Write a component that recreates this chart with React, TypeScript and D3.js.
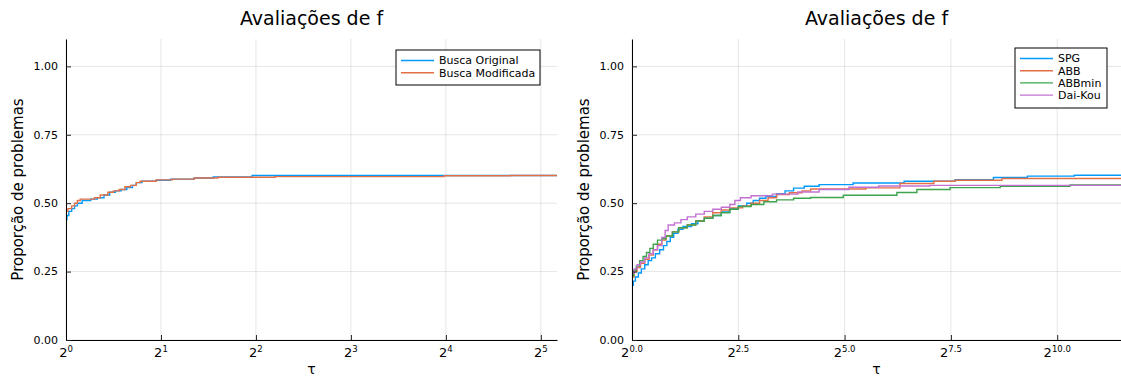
import { axisBottom, axisLeft, curveStepAfter, format, line, scaleLinear, select } from 'd3';
import { useEffect, useRef } from 'react';

// performance profiles: [log2(tau), proportion of problems]
const buscaOriginal = [
  [0, 0.44], [0.01, 0.455], [0.03, 0.47], [0.06, 0.48], [0.09, 0.49], [0.12, 0.5], [0.17, 0.51],
  [0.26, 0.515], [0.33, 0.52], [0.4, 0.53], [0.46, 0.54], [0.52, 0.545], [0.58, 0.55], [0.64, 0.557],
  [0.7, 0.565], [0.74, 0.575], [0.8, 0.58], [0.95, 0.584], [1.1, 0.588], [1.35, 0.592], [1.55, 0.596],
  [1.96, 0.601], [5.17, 0.601],
];
const buscaModificada = [
  [0, 0.47], [0.02, 0.48], [0.06, 0.49], [0.09, 0.5], [0.12, 0.51], [0.15, 0.515], [0.3, 0.52],
  [0.36, 0.53], [0.44, 0.54], [0.5, 0.545], [0.56, 0.55], [0.62, 0.56], [0.68, 0.565], [0.74, 0.575],
  [0.78, 0.58], [0.95, 0.585], [1.12, 0.588], [1.35, 0.592], [1.6, 0.595], [2.2, 0.597], [3.98, 0.6],
  [4.68, 0.601], [5.17, 0.601],
];

const spg = [
  [0, 0.2], [0.03, 0.215], [0.08, 0.23], [0.15, 0.245], [0.22, 0.26], [0.3, 0.275], [0.38, 0.29],
  [0.46, 0.3], [0.55, 0.315], [0.65, 0.33], [0.74, 0.345], [0.82, 0.36], [0.9, 0.375], [0.98, 0.39],
  [1.08, 0.405], [1.2, 0.415], [1.4, 0.425], [1.55, 0.435], [1.7, 0.445], [1.9, 0.455], [2.1, 0.468],
  [2.3, 0.48], [2.5, 0.49], [2.7, 0.5], [2.85, 0.51], [3.0, 0.518], [3.15, 0.525], [3.4, 0.535],
  [3.6, 0.545], [3.8, 0.555], [4.05, 0.562], [4.4, 0.568], [5.2, 0.574], [6.4, 0.58], [7.6, 0.586],
  [8.5, 0.594], [9.3, 0.599], [10.4, 0.602], [11.5, 0.602],
];
const abb = [
  [0, 0.23], [0.05, 0.25], [0.12, 0.265], [0.2, 0.28], [0.3, 0.295], [0.4, 0.31], [0.5, 0.33],
  [0.6, 0.35], [0.7, 0.365], [0.8, 0.38], [0.95, 0.395], [1.1, 0.41], [1.3, 0.42], [1.5, 0.435],
  [1.7, 0.45], [1.9, 0.465], [2.1, 0.475], [2.3, 0.483], [2.6, 0.49], [2.8, 0.5], [3.0, 0.51],
  [3.2, 0.52], [3.4, 0.532], [3.7, 0.538], [4.0, 0.545], [4.2, 0.552], [5.5, 0.556], [6.3, 0.572],
  [7.1, 0.58], [7.6, 0.584], [8.7, 0.59], [11.5, 0.591],
];
const abbMin = [
  [0, 0.235], [0.04, 0.255], [0.1, 0.27], [0.18, 0.29], [0.26, 0.305], [0.34, 0.32], [0.42, 0.335],
  [0.5, 0.35], [0.6, 0.365], [0.7, 0.37], [0.8, 0.38], [0.95, 0.395], [1.1, 0.41], [1.3, 0.42],
  [1.5, 0.435], [1.7, 0.445], [1.9, 0.455], [2.1, 0.465], [2.3, 0.478], [2.5, 0.488], [2.8, 0.495],
  [3.1, 0.505], [3.4, 0.512], [3.8, 0.518], [4.2, 0.521], [4.97, 0.529], [6.23, 0.539], [6.7, 0.55],
  [7.48, 0.557], [8.66, 0.562], [10.3, 0.567], [11.5, 0.567],
];
const daiKou = [
  [0, 0.245], [0.05, 0.26], [0.12, 0.275], [0.2, 0.285], [0.3, 0.3], [0.4, 0.315], [0.5, 0.33],
  [0.6, 0.345], [0.7, 0.375], [0.78, 0.4], [0.85, 0.42], [1.0, 0.428], [1.15, 0.44], [1.3, 0.45],
  [1.5, 0.46], [1.7, 0.47], [1.9, 0.478], [2.1, 0.485], [2.3, 0.495], [2.42, 0.51], [2.55, 0.52],
  [2.8, 0.527], [3.3, 0.533], [3.9, 0.541], [4.4, 0.55], [5.1, 0.558], [5.8, 0.563], [7.0, 0.565],
  [11.5, 0.566],
];

const leftXTicks = [0, 1, 2, 3, 4, 5];
const rightXTicks = [0, 2.5, 5, 7.5, 10];
const yTicks = [0, 0.25, 0.5, 0.75, 1];

const FONT = 'DejaVu Sans, sans-serif';

const panels = [
  {
    x0: 66, x1: 557, xMax: 5.17, xTicks: leftXTicks, fmt: (d) => `${d}`,
    series: [
      { name: 'Busca Original', color: '#009AFA', data: buscaOriginal },
      { name: 'Busca Modificada', color: '#E36F47', data: buscaModificada },
    ],
    legend: { x: 396, y: 50, w: 144, h: 35 },
  },
  {
    x0: 632, x1: 1121, xMax: 11.5, xTicks: rightXTicks, fmt: (d) => d.toFixed(1),
    series: [
      { name: 'SPG', color: '#009AFA', data: spg },
      { name: 'ABB', color: '#E36F47', data: abb },
      { name: 'ABBmin', color: '#3EA44E', data: abbMin },
      { name: 'Dai-Kou', color: '#C271D2', data: daiKou },
    ],
    legend: { x: 1015, y: 48, w: 92, h: 60 },
  },
];

const App = () => {
  const svgRef = useRef(null);

  useEffect(() => {
    const svgEl = select(svgRef.current);
    svgEl.selectAll('*').remove();
    const top = 39;
    const bottom = 340;

    panels.forEach((p) => {
      const xScale = scaleLinear().domain([0, p.xMax]).range([p.x0, p.x1]);
      const yScale = scaleLinear().domain([0, 1.1]).range([bottom, top]);
      const g = svgEl.append('g');

      // grid
      g.selectAll('.vgrid')
        .data(p.xTicks)
        .enter()
        .append('line')
        .attr('x1', (d) => xScale(d))
        .attr('x2', (d) => xScale(d))
        .attr('y1', top)
        .attr('y2', bottom)
        .attr('stroke', '#000')
        .attr('stroke-opacity', 0.1);
      g.selectAll('.hgrid')
        .data(yTicks)
        .enter()
        .append('line')
        .attr('x1', p.x0)
        .attr('x2', p.x1)
        .attr('y1', (d) => yScale(d))
        .attr('y2', (d) => yScale(d))
        .attr('stroke', '#000')
        .attr('stroke-opacity', 0.1);

      const gLine = line()
        .x((d) => xScale(d[0]))
        .y((d) => yScale(d[1]))
        .curve(curveStepAfter);

      g.selectAll('.series')
        .data(p.series)
        .enter()
        .append('path')
        .attr('fill', 'none')
        .attr('stroke', (d) => d.color)
        .attr('stroke-width', 1.4)
        .attr('d', (d) => gLine(d.data));

      // axes, ticks pointing inward
      const xAxisGroup = g
        .append('g')
        .attr('transform', `translate(0,${bottom})`)
        .call(axisBottom(xScale).tickValues(p.xTicks).tickSizeInner(-5).tickSizeOuter(0).tickFormat(() => ''));
      xAxisGroup.select('.domain').attr('stroke', '#000');
      xAxisGroup.selectAll('line').attr('stroke', '#222');

      const yAxisGroup = g
        .append('g')
        .attr('transform', `translate(${p.x0},0)`)
        .call(axisLeft(yScale).tickValues(yTicks).tickSizeInner(-5).tickSizeOuter(0).tickFormat(() => ''));
      yAxisGroup.select('.domain').attr('stroke', '#000');
      yAxisGroup.selectAll('line').attr('stroke', '#222');

      // y tick labels
      g.selectAll('.ylab')
        .data(yTicks)
        .enter()
        .append('text')
        .attr('x', p.x0 - 8)
        .attr('y', (d) => yScale(d))
        .attr('dy', '0.35em')
        .attr('text-anchor', 'end')
        .attr('font-family', FONT)
        .attr('font-size', 11)
        .attr('fill', '#000')
        .text((d) => format('.2f')(d));

      // x tick labels as powers of 2
      const xl = g
        .selectAll('.xlab')
        .data(p.xTicks)
        .enter()
        .append('text')
        .attr('x', (d) => xScale(d))
        .attr('y', 357)
        .attr('text-anchor', 'middle')
        .attr('font-family', FONT)
        .attr('fill', '#000');
      xl.append('tspan').attr('font-size', 13).text('2');
      xl.append('tspan').attr('font-size', 8.5).attr('dy', -5).text((d) => p.fmt(d));

      const cx = (p.x0 + p.x1) / 2;
      g.append('text')
        .attr('x', cx)
        .attr('y', 25)
        .attr('text-anchor', 'middle')
        .attr('font-family', FONT)
        .attr('font-size', 19)
        .text('Avaliações de f');
      g.append('text')
        .attr('x', cx)
        .attr('y', 374)
        .attr('text-anchor', 'middle')
        .attr('font-family', FONT)
        .attr('font-size', 14)
        .text('τ');
      g.append('text')
        .attr('transform', `translate(${p.x0 - 43},${(top + bottom) / 2}) rotate(-90)`)
        .attr('text-anchor', 'middle')
        .attr('font-family', FONT)
        .attr('font-size', 15)
        .text('Proporção de problemas');

      // legend
      const lg = g.append('g').attr('transform', `translate(${p.legend.x},${p.legend.y})`);
      lg.append('rect')
        .attr('width', p.legend.w)
        .attr('height', p.legend.h)
        .attr('fill', '#fff')
        .attr('stroke', '#000')
        .attr('stroke-width', 1);
      const items = lg
        .selectAll('.item')
        .data(p.series)
        .enter()
        .append('g')
        .attr('transform', (d, i) => `translate(0,${10.5 + i * 12.2})`);
      items
        .append('line')
        .attr('x1', 5)
        .attr('x2', 38)
        .attr('stroke', (d) => d.color)
        .attr('stroke-width', 1.4);
      items
        .append('text')
        .attr('x', 43)
        .attr('dy', '0.35em')
        .attr('font-family', FONT)
        .attr('font-size', 11)
        .text((d) => d.name);
    });
  }, []);

  return (
    <svg
      ref={svgRef}
      width={1121}
      height={378}
      style={{ position: 'absolute', left: 0, top: 0, background: '#fff' }}
    />
  );
};

export default App;
